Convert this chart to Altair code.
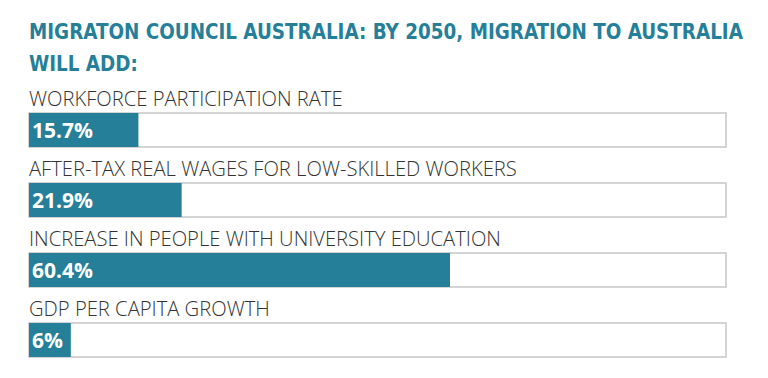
import altair as alt
import pandas as pd

categories = [
    "WORKFORCE PARTICIPATION RATE",
    "AFTER-TAX REAL WAGES FOR LOW-SKILLED WORKERS",
    "INCREASE IN PEOPLE WITH UNIVERSITY EDUCATION",
    "GDP PER CAPITA GROWTH",
]
values = [15.7, 21.9, 60.4, 6]
value_labels = ["15.7%", "21.9%", "60.4%", "6%"]
full_scale = [100, 100, 100, 100]

df = pd.DataFrame({
    "category": categories,
    "value": values,
    "label": value_labels,
    "full": full_scale,
    "zero": [0, 0, 0, 0],
})

TEAL = "#267f99"

y_enc = alt.Y("category:N", sort=categories, axis=None,
              scale=alt.Scale(paddingInner=0, paddingOuter=0))
x_scale = alt.Scale(domain=[0, 100], nice=False, zero=True)

bg = alt.Chart(df).mark_bar(height=34, fill="white", stroke="#c6c6c6",
                            strokeWidth=1.5).encode(
    x=alt.X("zero:Q", scale=x_scale, axis=None),
    x2="full:Q",
    y=y_enc,
)

bars = alt.Chart(df).mark_bar(height=34, color=TEAL).encode(
    x=alt.X("value:Q", scale=x_scale, axis=None),
    y=y_enc,
)

vals = alt.Chart(df).mark_text(align="left", baseline="middle", dx=3, dy=2,
                               color="white", font="Open Sans",
                               fontWeight="bold", fontSize=21).encode(
    x=alt.X("zero:Q", scale=x_scale, axis=None),
    y=y_enc,
    text="label:N",
)

cats = alt.Chart(df).mark_text(align="left", baseline="middle", dy=-30,
                               color="#333333", font="Open Sans",
                               fontWeight=300, fontSize=20.2).encode(
    x=alt.X("zero:Q", scale=x_scale, axis=None),
    y=y_enc,
    text="category:N",
)

chart = alt.layer(bg, bars, vals, cats).properties(
    width=697,
    height=280,
    padding={"left": 29, "top": 95, "right": 42, "bottom": 3},
    autosize=alt.AutoSizeParams(type="none"),
    title=alt.Title(
        ["MIGRATON COUNCIL AUSTRALIA: BY 2050, MIGRATION TO AUSTRALIA", "WILL ADD:"],
        anchor="start", font="DejaVu Sans Condensed", fontWeight="bold",
        fontSize=20.4, color=TEAL, lineHeight=32, offset=15, frame="group",
    ),
).configure(background="white").configure_view(stroke=None, strokeWidth=0)

chart.save("out.html", embed_options={"renderer": "svg", "actions": False})
